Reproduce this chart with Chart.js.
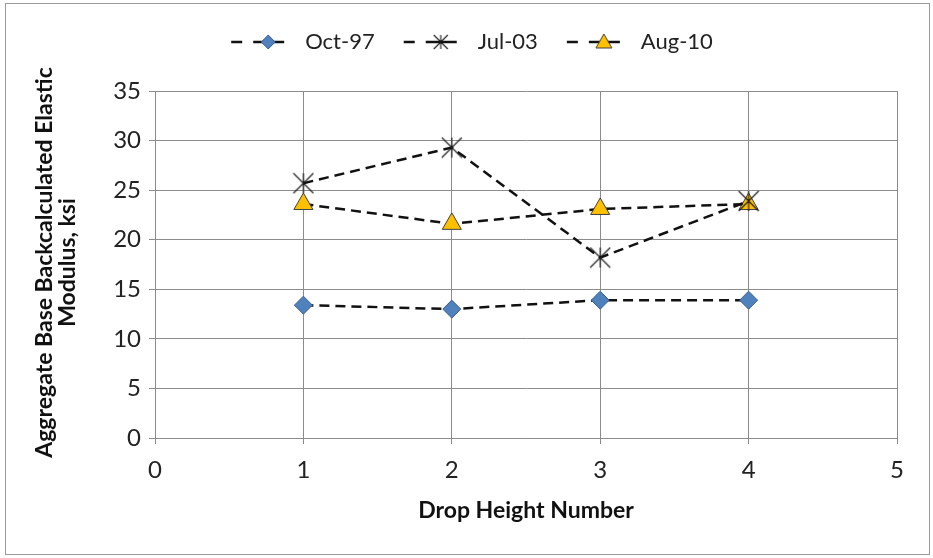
<!DOCTYPE html>
<html>
<head>
<meta charset="utf-8">
<script src="https://cdn.jsdelivr.net/npm/chart.js@4/dist/chart.umd.min.js"></script>
<style>
  html, body { margin: 0; padding: 0; background: #fff; }
  #wrap { position: relative; width: 933px; height: 558px; }
</style>
</head>
<body>
<div id="wrap"><canvas id="chart" width="933" height="558"></canvas></div>
<script>
// data
const dropHeights = [1, 2, 3, 4];
const seriesNames = ['Oct-97', 'Jul-03', 'Aug-10'];
const oct97 = [13.4, 13.0, 13.9, 13.9];
const jul03 = [25.7, 29.3, 18.2, 23.9];
const aug10 = [23.6, 21.6, 23.1, 23.6];
const xTicks = [0, 1, 2, 3, 4, 5];
const yTicks = [0, 5, 10, 15, 20, 25, 30, 35];
const yTitle = ['Aggregate Base Backcalculated Elastic', 'Modulus, ksi'];
const xTitle = 'Drop Height Number';

const FONT = "Lato, 'Open Sans', sans-serif";
const DIAMOND_FILL = '#4f81bd', DIAMOND_EDGE = '#3a5f8f';
const TRI_FILL = '#ffc000', TRI_EDGE = '#404040';

// excel style star marker: an X plus a vertical bar
function starMarker(size) {
    const c = document.createElement('canvas');
    c.width = size; c.height = size;
    const g = c.getContext('2d');
    const h = size / 2, r = size / 2 - 1;
    g.strokeStyle = '#1a1a1a';
    g.lineWidth = 1.1;
    g.beginPath();
    g.moveTo(h - r, h - r); g.lineTo(h + r, h + r);
    g.moveTo(h + r, h - r); g.lineTo(h - r, h + r);
    g.moveTo(h, h - r); g.lineTo(h, h + r);
    g.stroke();
    return c;
}

// legend sample: dashed line with the marker, left part of a wider box
function legendSample(kind) {
    const w = 64, hgt = 22, sw = 54;
    const c = document.createElement('canvas');
    c.width = w; c.height = hgt;
    const g = c.getContext('2d');
    const cy = hgt / 2, cx = 38;
    g.strokeStyle = '#111';
    g.lineWidth = 2.5;
    g.beginPath();
    g.moveTo(1, cy); g.lineTo(12, cy);
    g.moveTo(23, cy); g.lineTo(sw, cy);
    g.stroke();
    if (kind === 0) {
        g.fillStyle = DIAMOND_FILL; g.strokeStyle = DIAMOND_EDGE; g.lineWidth = 1;
        g.beginPath();
        g.moveTo(cx, cy - 7); g.lineTo(cx + 7, cy); g.lineTo(cx, cy + 7); g.lineTo(cx - 7, cy);
        g.closePath(); g.fill(); g.stroke();
    } else if (kind === 1) {
        g.drawImage(starMarker(16), cx - 8, cy - 8);
    } else {
        g.fillStyle = TRI_FILL; g.strokeStyle = TRI_EDGE; g.lineWidth = 1;
        g.beginPath();
        g.moveTo(cx, cy - 8); g.lineTo(cx + 8, cy + 6); g.lineTo(cx - 8, cy + 6);
        g.closePath(); g.fill(); g.stroke();
    }
    return c;
}

const toPoints = (ys) => dropHeights.map((x, i) => ({ x: x, y: ys[i] }));

// white background, outer border, and the two-line y title (drawn without squeezing)
const frame = {
    id: 'frame',
    afterLayout(chart) {
        // the legend in the original sits a little right of centre
        if (chart.legend) { chart.legend.left += 12; chart.legend.right += 12; }
    },
    beforeDraw(chart) {
        const ctx = chart.ctx;
        ctx.save();
        ctx.fillStyle = '#fff';
        ctx.fillRect(0, 0, chart.width, chart.height);
        ctx.strokeStyle = '#9a9a9a';
        ctx.lineWidth = 1;
        ctx.strokeRect(5.5, 3.5, 924, 551);
        ctx.restore();
    },
    afterDraw(chart) {
        const ctx = chart.ctx, area = chart.chartArea;
        ctx.save();
        ctx.translate(45, (area.top + area.bottom) / 2 - 2);
        ctx.rotate(-Math.PI / 2);
        ctx.fillStyle = '#111';
        ctx.font = 'bold 23px ' + FONT;
        ctx.textAlign = 'center';
        ctx.textBaseline = 'middle';
        yTitle.forEach((line, i) => ctx.fillText(line, 0, i * 23));
        ctx.restore();
    }
};

const lineStyle = {
    xAxisID: 'x',
    yAxisID: 'y',
    showLine: true,
    borderColor: '#111',
    borderWidth: 2.5,
    borderDash: [10, 6],
    tension: 0,
    fill: false
};

new Chart(document.getElementById('chart'), {
    type: 'scatter',
    data: {
        datasets: [
            Object.assign({
                label: seriesNames[0], data: toPoints(oct97),
                pointStyle: 'rectRot', pointRadius: 9, pointHoverRadius: 9,
                pointBackgroundColor: DIAMOND_FILL, pointBorderColor: DIAMOND_EDGE, pointBorderWidth: 1
            }, lineStyle),
            Object.assign({
                label: seriesNames[1], data: toPoints(jul03),
                pointStyle: starMarker(22), pointRadius: 11
            }, lineStyle),
            Object.assign({
                label: seriesNames[2], data: toPoints(aug10),
                pointStyle: 'triangle', pointRadius: 11, pointHoverRadius: 11,
                pointBackgroundColor: TRI_FILL, pointBorderColor: TRI_EDGE, pointBorderWidth: 1
            }, lineStyle)
        ]
    },
    options: {
        responsive: false,
        animation: false,
        layout: { padding: { left: 22, right: 36, top: 3, bottom: 30 } },
        plugins: {
            legend: {
                position: 'top',
                labels: {
                    usePointStyle: true,
                    pointStyleWidth: 64,
                    boxHeight: 22,
                    padding: 28,
                    color: '#222',
                    font: { family: FONT, size: 22 },
                    generateLabels(chart) {
                        return chart.data.datasets.map((ds, i) => ({
                            text: ds.label,
                            pointStyle: legendSample(i),
                            fillStyle: 'transparent',
                            strokeStyle: 'transparent',
                            lineWidth: 0,
                            datasetIndex: i,
                            fontColor: '#222'
                        }));
                    }
                }
            },
            tooltip: { enabled: false }
        },
        scales: {
            x: {
                type: 'linear', position: 'bottom',
                min: xTicks[0], max: xTicks[xTicks.length - 1],
                afterBuildTicks(scale) { scale.ticks = xTicks.map(v => ({ value: v })); },
                afterFit(scale) { scale.height = 90; },
                ticks: { color: '#222', padding: 12, font: { family: FONT, size: 24 } },
                grid: { color: '#8c8c8c', lineWidth: 1, tickLength: 6, tickColor: '#8c8c8c' },
                border: { color: '#8c8c8c', width: 1 },
                title: {
                    display: true, text: xTitle, color: '#111',
                    font: { family: FONT, size: 23, weight: 'bold' }, padding: { top: 4, bottom: 4 }
                }
            },
            y: {
                min: yTicks[0], max: yTicks[yTicks.length - 1],
                afterBuildTicks(scale) { scale.ticks = yTicks.map(v => ({ value: v })); },
                afterFit(scale) { scale.width = 133; },
                ticks: { color: '#222', padding: 8, font: { family: FONT, size: 24 } },
                grid: { color: '#8c8c8c', lineWidth: 1, tickLength: 6, tickColor: '#8c8c8c' },
                border: { color: '#8c8c8c', width: 1 }
            },
            // empty spacer between the legend and the plot
            gap: {
                type: 'linear', position: 'top',
                afterFit(scale) { scale.height = 28; },
                grid: { display: false }, ticks: { display: false }, border: { display: false }
            }
        }
    },
    plugins: [frame]
});
</script>
</body>
</html>
